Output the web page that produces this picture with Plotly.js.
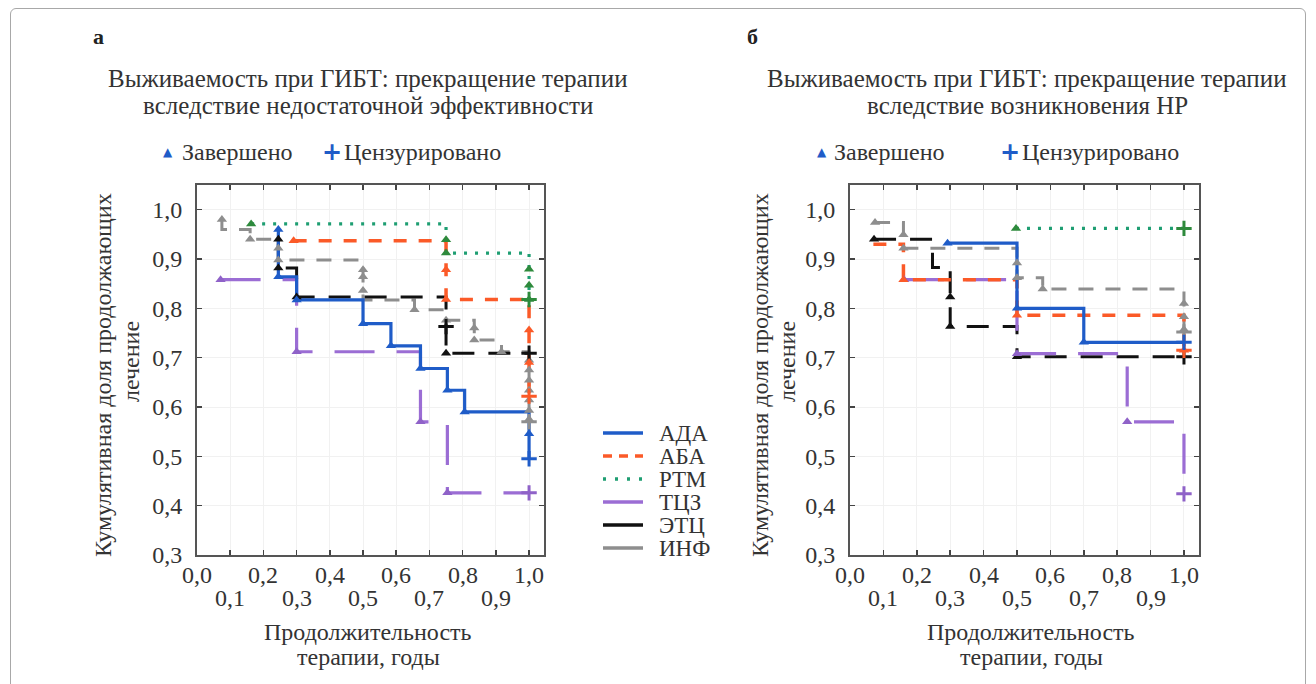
<!DOCTYPE html>
<html><head><meta charset="utf-8">
<script src="https://cdn.plot.ly/plotly-3.0.1.min.js"></script>
<style>
html,body{margin:0;padding:0;background:#fff;}
#chart{width:1316px;height:684px;position:absolute;left:0;top:0;}
#frame{position:absolute;left:10px;top:8px;width:1294px;height:700px;border:1px solid #a8a8a8;border-radius:6px;pointer-events:none;}
</style>
</head><body>
<div id="chart"></div><div id="frame"></div>
<script>
// ---------- DATA ----------
const seriesNames = ['АДА','АБА','РТМ','ТЦЗ','ЭТЦ','ИНФ'];
const xTickVals = [0,0.1,0.2,0.3,0.4,0.5,0.6,0.7,0.8,0.9,1.0];
const xTickText = ['0,0','0,1','0,2','0,3','0,4','0,5','0,6','0,7','0,8','0,9','1,0'];
// marker code: 0 = завершено (triangle), 1 = цензурировано (plus), 2 = no marker
// Panel а
const a_ADA_t = [0.245,0.245,0.30,0.50,0.584,0.673,0.754,0.806,1.0,1.0];
const a_ADA_s = [0.96,0.864,0.817,0.769,0.724,0.678,0.634,0.59,0.546,0.495];
const a_ADA_m = [0,0,0,0,0,0,0,0,0,1];
const a_ABA_t = [0.291,0.75,0.75,1.0,1.0,1.0];
const a_ABA_s = [0.937,0.878,0.818,0.756,0.69,0.622];
const a_ABA_m = [0,0,0,0,0,1];
const a_RTM_t = [0.163,0.75,0.75,1.0,1.0,1.0,1.0];
const a_RTM_s = [0.971,0.939,0.912,0.879,0.847,0.818,0.818];
const a_RTM_m = [0,0,0,0,0,0,1];
const a_TCZ_t = [0.071,0.30,0.673,0.754,1.0];
const a_TCZ_s = [0.858,0.712,0.57,0.426,0.426];
const a_TCZ_m = [0,0,0,0,1];
const a_ETC_t = [0.245,0.245,0.30,0.75,0.75,1.0];
const a_ETC_s = [0.94,0.882,0.823,0.763,0.709,0.709];
const a_ETC_m = [0,0,0,1,0,1];
const a_INF_t = [0.075,0.075,0.16,0.245,0.245,0.5,0.5,0.5,0.5,0.655,0.75,0.835,0.835,0.917,1.0,1.0,1.0,1.0,1.0,1.0,1.0,1.0];
const a_INF_s = [0.98,0.96,0.94,0.922,0.898,0.878,0.864,0.836,0.817,0.797,0.776,0.76,0.736,0.712,0.695,0.675,0.654,0.634,0.614,0.593,0.575,0.57];
const a_INF_m = [0,2,0,0,0,0,0,0,2,0,0,0,0,0,0,0,0,0,0,0,0,1];
// Panel б
const b_ADA_t = [0.292,0.5,0.7,1.0];
const b_ADA_s = [0.932,0.8,0.731,0.731];
const b_ADA_m = [0,0,0,1];
const b_ABA_t = [0.07,0.16,0.5,1.0,1.0];
const b_ABA_s = [0.93,0.858,0.786,0.715,0.715];
const b_ABA_m = [2,0,0,0,1];
const b_RTM_t = [0.497,1.0];
const b_RTM_s = [0.962,0.962];
const b_RTM_m = [0,1];
const b_TCZ_t = [0.162,0.5,0.83,1.0];
const b_TCZ_s = [0.858,0.708,0.57,0.424];
const b_TCZ_m = [0,0,0,1];
const b_ETC_t = [0.072,0.247,0.30,0.30,0.5,1.0];
const b_ETC_s = [0.94,0.883,0.823,0.763,0.702,0.702];
const b_ETC_m = [0,2,0,0,0,1];
const b_INF_t = [0.075,0.16,0.16,0.5,0.5,0.577,1.0,1.0,1.0,1.0];
const b_INF_s = [0.974,0.949,0.922,0.892,0.862,0.839,0.81,0.783,0.757,0.752];
const b_INF_m = [0,0,0,0,0,0,0,0,0,1];

// ---------- STYLES ----------
const W = 1316, H = 684;
const px = v => v / W, py = v => 1 - v / H;
const FONT = '"Liberation Serif", "DejaVu Serif", serif';
const FS = 24;
const styles = [
  {color:'#1f5cc8', mcolor:'#1f5cc8', width:3.2, dash:'solid', legDash:'solid'},
  {color:'#fb5a28', mcolor:'#fb5a28', width:3.5, dash:'13px,12px', legDash:'9px,7px'},
  {color:'#1e9e72', mcolor:'#2e8a3c', width:3.2, dash:'3px,8px', legDash:'3px,9px'},
  {color:'#9b6dd4', mcolor:'#8f62c8', width:3.2, dash:'40px,22px', legDash:'solid'},
  {color:'#111111', mcolor:'#111111', width:3, dash:'22px,14px', legDash:'solid'},
  {color:'#8e8e8e', mcolor:'#8e8e8e', width:3, dash:'15px,12px', legDash:'solid'}
];
const panelA = [[a_ADA_t,a_ADA_s,a_ADA_m],[a_ABA_t,a_ABA_s,a_ABA_m],[a_RTM_t,a_RTM_s,a_RTM_m],[a_TCZ_t,a_TCZ_s,a_TCZ_m],[a_ETC_t,a_ETC_s,a_ETC_m],[a_INF_t,a_INF_s,a_INF_m]];
const panelB = [[b_ADA_t,b_ADA_s,b_ADA_m],[b_ABA_t,b_ABA_s,b_ABA_m],[b_RTM_t,b_RTM_s,b_RTM_m],[b_TCZ_t,b_TCZ_s,b_TCZ_m],[b_ETC_t,b_ETC_s,b_ETC_m],[b_INF_t,b_INF_s,b_INF_m]];

const traces = [];
function addPanel(panel, xa, ya) {
  const order = [5,4,3,2,1,0];
  order.forEach(i => {
    const [t,s] = panel[i], st = styles[i];
    traces.push({x:t, y:s, xaxis:xa, yaxis:ya, mode:'lines', showlegend:false, hoverinfo:'skip',
      line:{shape:'hv', color:st.color, width:st.width, dash:st.dash}});
  });
  order.forEach(i => {
    const [t,s,m] = panel[i], st = styles[i];
    const tx=[], ty=[], cx=[], cy=[];
    m.forEach((k,j)=>{ if(k===0){tx.push(t[j]);ty.push(s[j]);} else if(k===1){cx.push(t[j]);cy.push(s[j]);} });
    traces.push({x:tx, y:ty, xaxis:xa, yaxis:ya, mode:'markers', showlegend:false, hoverinfo:'skip',
      marker:{symbol:'triangle-up', size:9, color:st.mcolor}});
    traces.push({x:cx, y:cy, xaxis:xa, yaxis:ya, mode:'markers', showlegend:false, hoverinfo:'skip',
      marker:{symbol:'cross-thin', size:11, color:st.mcolor, line:{color:st.mcolor, width:3}}});
  });
}
addPanel(panelA,'x','y');
addPanel(panelB,'x2','y2');

const axX = (dom) => ({domain:dom, range:[0,1.045], showticklabels:false, ticks:'inside', ticklen:5,
  tickcolor:'#444', tickwidth:1.5, tick0:0, dtick:0.1, showline:true, linecolor:'#555', linewidth:2,
  mirror:'ticks', showgrid:true, gridcolor:'#f1f1f1', gridwidth:1, zeroline:false, fixedrange:true});
const axY = (anchor) => ({domain:[py(555), py(185)], range:[0.3,1.05], anchor:anchor, tick0:0.3, dtick:0.1,
  tickformat:'.1f', ticks:'inside', ticklen:5, tickcolor:'#444', tickwidth:1.5, showline:true,
  linecolor:'#555', linewidth:2, mirror:'ticks', showgrid:true, gridcolor:'#f1f1f1', zeroline:false,
  tickfont:{family:FONT, size:FS, color:'#333'}, ticklabelstandoff:8, fixedrange:true});

const ann = [];
const T = (x,y,text,opt={}) => ann.push(Object.assign({x:px(x), y:py(y), xref:'paper', yref:'paper',
  xanchor:'center', yanchor:'middle', text:text, showarrow:false,
  font:{family:FONT, size:FS, color:'#333'}}, opt));
// panel letters
T(98,37,'<b>а</b>',{font:{family:FONT,size:22,color:'#222'}});
T(752,37,'<b>б</b>',{font:{family:FONT,size:22,color:'#222'}});
// titles
const TF = {family:FONT, size:25, color:'#333'};
T(368,78,'Выживаемость при ГИБТ: прекращение терапии',{font:TF});
T(368,106,'вследствие недостаточной эффективности',{font:TF});
T(1027,78,'Выживаемость при ГИБТ: прекращение терапии',{font:TF});
T(1027,106,'вследствие возникновения НР',{font:TF});
// marker legends
const mk = (x,sym,size) => T(x,152,sym,{font:{family:'DejaVu Sans',size:size,color:'#1f5cc8'}});
mk(168,'▲',12); mk(332,'<b>+</b>',24); mk(822,'▲',12); mk(1010,'<b>+</b>',24);
T(180,152,'Завершено',{xanchor:'left'});
T(342,152,'Цензурировано',{xanchor:'left'});
T(832,152,'Завершено',{xanchor:'left'});
T(1020,152,'Цензурировано',{xanchor:'left'});
// y titles
[[103,131],[760,787]].forEach(([a,b])=>{
  T(a,375,'Кумулятивная доля продолжающих',{textangle:-90});
  T(b,362,'лечение',{textangle:-90});
});
// x titles
T(368,632,'Продолжительность'); T(368,657,'терапии, годы');
T(1031,632,'Продолжительность'); T(1031,657,'терапии, годы');
// x tick labels (two staggered rows)
['x','x2'].forEach(xr=>{
  xTickVals.forEach((v,i)=>{
    ann.push({x:v, xref:xr, y:py(i%2===0?575:598), yref:'paper', xanchor:'center', yanchor:'middle',
      text:xTickText[i], showarrow:false, font:{family:FONT, size:FS, color:'#333'}});
  });
});
// series legend (keys as shapes, names as text)
const legRows = [433,456,479,502,525,548];
const shapes = [];
seriesNames.forEach((n,i)=>{
  shapes.push({type:'line', xref:'paper', yref:'paper', x0:px(603), x1:px(643), y0:py(legRows[i]), y1:py(legRows[i]),
    line:{color:styles[i].color, width:3.5, dash:styles[i].legDash}});
  T(657, legRows[i], n, {xanchor:'left', font:{family:FONT, size:23, color:'#333'}});
});

const layout = {
  width:W, height:H, margin:{l:0,r:0,t:0,b:0}, paper_bgcolor:'#fff', plot_bgcolor:'#fff',
  separators:', ', showlegend:false,
  xaxis:Object.assign(axX([px(197),px(544)]),{anchor:'y'}),
  yaxis:axY('x'),
  xaxis2:Object.assign(axX([px(850),px(1199)]),{anchor:'y2'}),
  yaxis2:axY('x2'),
  annotations:ann, shapes:shapes
};
Plotly.newPlot('chart', traces, layout, {staticPlot:true});
</script>
</body></html>
